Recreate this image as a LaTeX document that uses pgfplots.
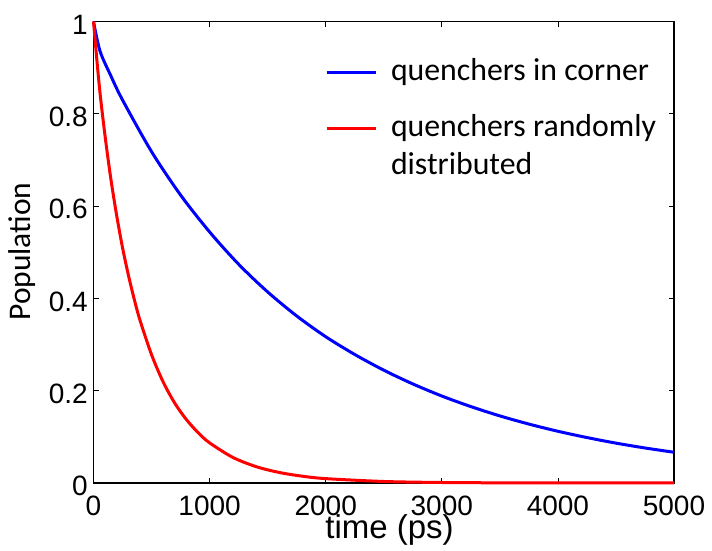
\documentclass[border=0pt]{standalone}
\usepackage{fontspec}
\setmainfont{Liberation Sans}
\newfontfamily\calibri{Carlito}
\usepackage{pgfplots}
\pgfplotsset{compat=1.18}
\begin{document}
\begin{tikzpicture}
\path[use as bounding box] (0pt,0pt) rectangle (712pt,550pt);
\begin{axis}[
 at={(93.5pt,67pt)}, anchor=south west,
 scale only axis, width=580.5pt, height=461.5pt,
 xmin=0,xmax=5000,ymin=0,ymax=1,
 xtick={0,1000,2000,3000,4000,5000},
 ytick={0,0.2,0.4,0.6,0.8,1},
 yticklabels={0,0.2,0.4,0.6,0.8,1},
 scaled ticks=false,
 /pgf/number format/1000 sep={},
 /pgf/number format/assume math mode=true,
 tick align=inside,
 major tick length=5.5pt,
 tick style={line width=0.8pt, black},
 axis line style={line width=1.2pt},
 tick label style={font=\fontsize{28}{34}\selectfont, inner sep=0pt},
 xticklabel style={anchor=base, yshift=-32pt},
 yticklabel style={anchor=east, xshift=-5.5pt, yshift=-3pt},
 xlabel={time (ps)},
 xlabel style={font=\fontsize{33}{38}\selectfont, at={(axis description cs:0.51,-0.1205)}, anchor=base, inner sep=0pt},
 ylabel={Population},
 ylabel style={font=\calibri\fontsize{31.5}{38}\selectfont, at={(axis description cs:-0.1077,0.5016)}, anchor=base, inner sep=0pt},
 clip=false,
 legend cell align=left,
 legend style={at={(axis description cs:0.3988,0.9194)}, anchor=north west, draw=none, fill=none, inner sep=0pt, outer sep=0pt, row sep=0pt, column sep=14pt, font=\calibri\fontsize{31.8}{38}\selectfont, nodes={inner sep=0pt, text height=22pt, text depth=6pt}, cells={anchor=base west}},
 legend image code/.code={\draw[#1, line width=3pt] (0pt,8pt) -- (49pt,8pt);},
]
\addplot[blue, line width=3pt, smooth] coordinates {
(0,1.000) (56,0.936) (150,0.882) (250,0.830) (500,0.718) (750,0.624) (1000,0.544)
(1250,0.474) (1500,0.414) (1750,0.362) (2000,0.317) (2250,0.2785) (2500,0.2445)
(2750,0.2147) (3000,0.1885) (3250,0.1656) (3500,0.1454) (3750,0.1277) (4000,0.1121)
(4250,0.0985) (4500,0.0864) (4750,0.0759) (5000,0.0666)
};
\addlegendentry{quenchers in corner}
\addplot[red, line width=3pt, smooth] coordinates {
(0,1.000) (50,0.860) (100,0.751) (150,0.658) (200,0.579) (250,0.510) (300,0.451)
(350,0.399) (400,0.353) (500,0.278) (600,0.219) (700,0.173) (800,0.1375) (900,0.1093)
(1000,0.087) (1200,0.0555) (1400,0.0355) (1600,0.0228) (1800,0.0147) (2000,0.0095)
(2500,0.0033) (3000,0.0011) (3500,0.0004) (4000,0.00014) (4500,0.00005) (5000,0.00002)
};
\addlegendentry[text height=50.3pt, text depth=0pt]{quenchers randomly}
\addlegendimage{empty legend}
\addlegendentry[text height=38pt, text depth=6pt]{distributed}
\end{axis}
\end{tikzpicture}
\end{document}
